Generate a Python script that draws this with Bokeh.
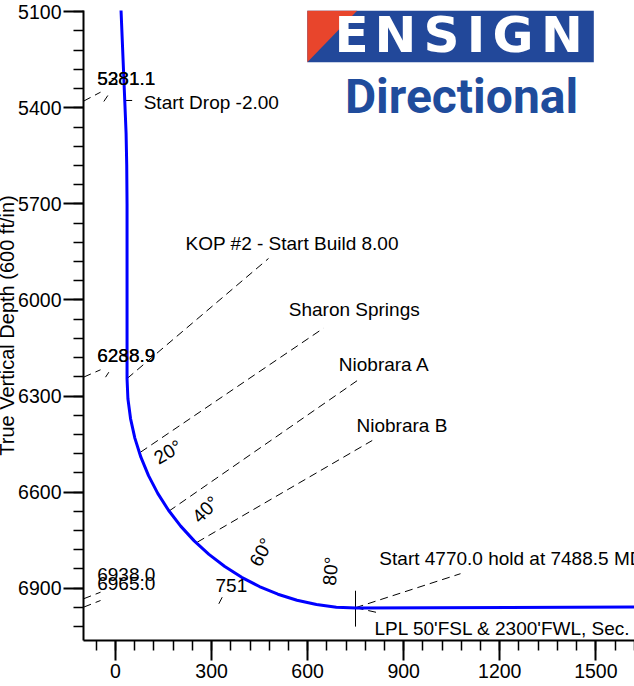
import numpy as np
from bokeh.plotting import figure
from bokeh.models import Range1d, FixedTicker, Title
from bokeh.core.properties import value
from bokeh.embed import file_html
from bokeh.resources import INLINE

# ---------------- data (vertical section ft, TVD ft) ----------------
path_vs = [17, 29, 33, 35, 36, 36, 38.7, 46.9, 60.4, 79.2, 103.1, 131.9, 165.5,
           203.5, 245.7, 291.8, 341.3, 394.0, 449.4, 507.1, 566.7, 627.7, 689.6,
           752.0, 1700]
path_tvd = [5090, 5381, 5480, 5580, 5700, 6246, 6308.4, 6370.3, 6431.3, 6490.9,
            6548.6, 6604.0, 6656.7, 6706.2, 6752.3, 6794.5, 6832.5, 6866.1,
            6894.9, 6918.8, 6937.6, 6951.1, 6959.3, 6962.0, 6958.5]

x_major = [0, 300, 600, 900, 1200, 1500]
x_minor = list(range(-60, 1621, 60))
y_major = [5100, 5400, 5700, 6000, 6300, 6600, 6900]
y_minor = list(range(5100, 7063, 60))

ann_text = ["Start Drop -2.00", "KOP #2 - Start Build 8.00", "Sharon Springs",
            "Niobrara A", "Niobrara B", "Start 4770.0 hold at 7488.5 MD",
            "LPL 50'FSL & 2300'FWL, Sec. 14"]
ann_x = [88, 218.6, 541, 697.4, 752.6, 824, 808.9]
ann_y = [5384.8, 5824.2, 6030.4, 6202.1, 6391.7, 6808.0, 7026.6]

md_text = ["5281.1", "5381.1", "6238.9", "6288.9", "6938.0", "6965.0", "751"]
md_x = [-57.2, -57.2, -57.2, -57.2, -57.2, -57.2, 312.3]
md_y = [5308.9, 5308.9, 6173.1, 6173.1, 6857.3, 6885.4, 6891.4]

inc_text = ["20°", "40°", "60°", "80°"]
inc_x = [163.4, 281, 455, 671.4]
inc_y = [6475, 6654, 6787.6, 6847]
inc_deg = [30, 45, 62, 85]

# dashed leader lines
lead_x0 = [36.5, 78, 166.5, 255.2, 749.5, 749.5, -100, -100, -100, -100]
lead_y0 = [6245, 6475.4, 6659.6, 6756.4, 6961, 6961, 5379.2, 6241.1, 6933.2, 6959.4]
lead_x1 = [477.8, 649.6, 759.8, 801.7, 1077.4, 821.4, -46.8, -46.8, -46.8, -46.8]
lead_y1 = [5870.4, 6088, 6248.4, 6438.8, 6854.8, 6977, 5351.1, 6218, 6912.6, 6938.5]

# short solid marks
mark_x0 = [-36.5, -31.2, 322.6, 28, 749.5]
mark_y0 = [5380.1, 6241.1, 6948.8, 5377, 6908]
mark_x1 = [-24, -20.9, 333.2, 52, 749.5]
mark_y1 = [5361.4, 6225.5, 6928.2, 5377, 7020]

# logo
logo_box = dict(left=599, right=1493.7, top=5096, bottom=5257.4)
logo_red_x = [599, 755.2, 599]
logo_red_y = [5096, 5096, 5257.4]
ensign_letters = list("ENSIGN")
ensign_x = [737, 874.4, 1018, 1125.8, 1241.3, 1394.3]
ensign_y = 5174
dir_text = "Directional"
dir_x = 1080.6
dir_y = 5363.9

FONT = "Liberation Sans"

p = figure(width=634, height=686, output_backend="svg", toolbar_location=None,
           x_range=Range1d(-100, 1620.8), y_range=Range1d(7063.4, 5096),
           min_border_left=83, min_border_right=0, min_border_top=10,
           min_border_bottom=46)
p.xgrid.visible = False
p.ygrid.visible = False
p.outline_line_color = None
p.background_fill_color = "white"
p.border_fill_color = "white"

for ax, maj, mnr in ((p.xaxis[0], x_major, x_minor), (p.yaxis[0], y_major, y_minor)):
    ax.ticker = FixedTicker(ticks=maj, minor_ticks=mnr)
    ax.axis_line_width = 2
    ax.axis_line_color = "black"
    ax.major_tick_out = 20
    ax.major_tick_in = 0
    ax.minor_tick_out = 10
    ax.minor_tick_in = 0
    ax.major_tick_line_width = 2
    ax.minor_tick_line_width = 1.5
    ax.major_tick_line_color = "black"
    ax.minor_tick_line_color = "black"
    ax.major_label_text_color = "black"
    ax.major_label_text_font = FONT
    ax.major_label_text_font_size = "19.5px"

p.xaxis.major_label_standoff = 3
p.yaxis.major_label_standoff = 2

# y axis title (partly off the page, as in the reference)
p.add_layout(Title(text="True Vertical Depth (600 ft/in)", align="center",
                   vertical_align="top", standoff=-9, text_font=FONT,
                   text_font_size="20px", text_font_style="normal",
                   text_color="black"), "left")

# logo
p.quad(**logo_box, fill_color="#22489a", line_color=None)
p.patch(logo_red_x, logo_red_y, fill_color="#e8452c", line_color=None)
p.text(x=ensign_x, y=[ensign_y] * len(ensign_x), text=ensign_letters,
       text_font=value("DejaVu Sans"), text_font_style="bold",
       text_font_size=value("50px"), text_color="white",
       text_align="center", text_baseline="middle")
p.text(x=[dir_x], y=[dir_y], text=[dir_text],
       text_font=value("Roboto"), text_font_style="bold",
       text_font_size=value("48px"), text_color="#1f4c9c",
       text_align="center", text_baseline="middle")

# leader lines
p.segment(lead_x0, lead_y0, lead_x1, lead_y1, line_color="black",
          line_width=1, line_dash="8 5")
p.segment(mark_x0, mark_y0, mark_x1, mark_y1, line_color="black", line_width=1)

# well path
p.line(path_vs, path_tvd, line_color="#0000ff", line_width=3)

# texts
p.text(x=ann_x, y=ann_y, text=ann_text, text_font=value(FONT),
       text_font_size=value("19px"), text_color="black",
       text_align="left", text_baseline="middle")
p.text(x=md_x, y=md_y, text=md_text, text_font=value(FONT),
       text_font_size=value("19px"), text_color="black",
       text_align="left", text_baseline="middle")
p.text(x=inc_x, y=inc_y, text=inc_text, angle=list(np.radians(inc_deg)),
       text_font=value(FONT), text_font_size=value("19px"), text_color="black",
       text_align="center", text_baseline="middle")

open("out.html", "w").write(file_html(p, INLINE))
